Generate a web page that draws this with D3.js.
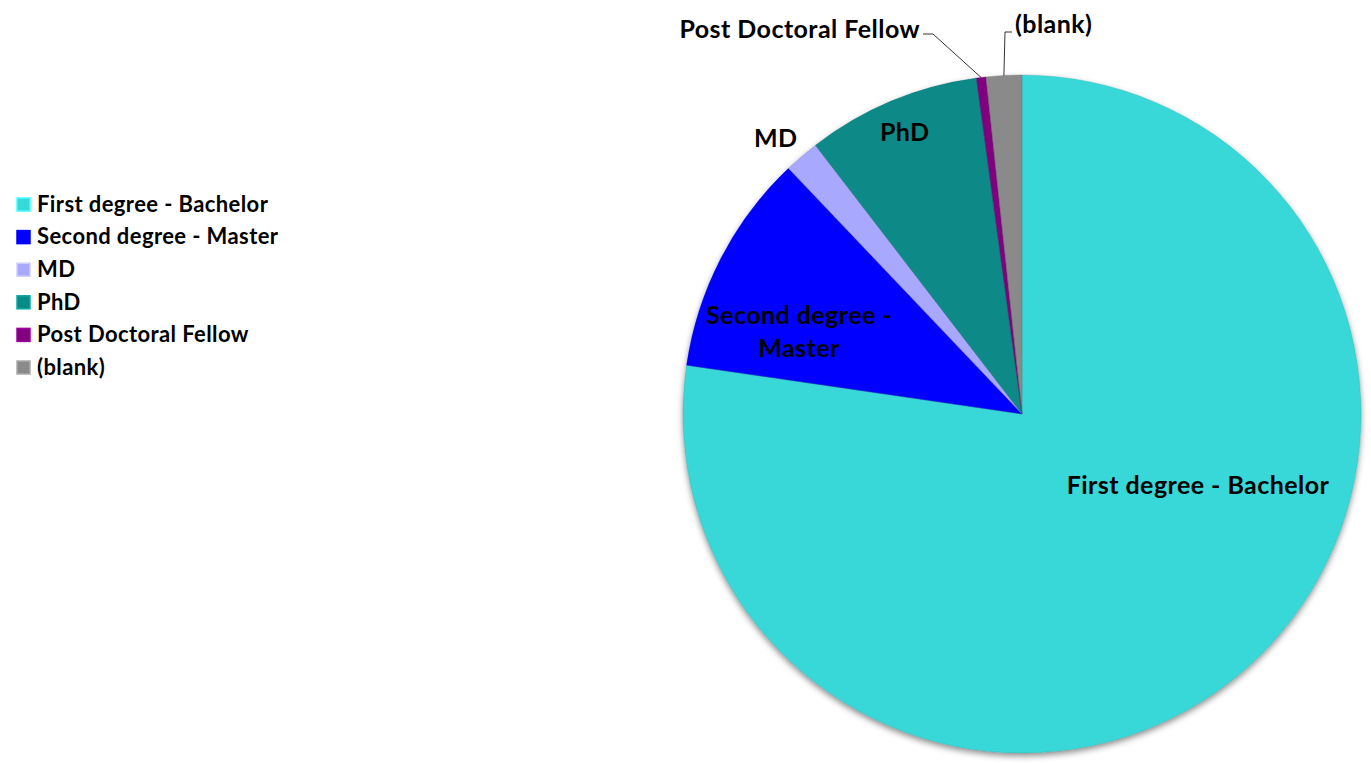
<!DOCTYPE html>
<html>
<head>
<meta charset="utf-8">
<script src="https://cdn.jsdelivr.net/npm/d3@7"></script>
<style>
  body { margin: 0; background: #fff; }
  text { font-family: Lato, "Open Sans", sans-serif; font-weight: 700; fill: #000; }
</style>
</head>
<body>
<div id="chart"></div>
<script>
// categories and share of each (percent)
const categories = ["First degree - Bachelor", "Second degree - Master", "MD", "PhD", "Post Doctoral Fellow", "(blank)"];
const values = [77.3, 10.6, 1.67, 8.28, 0.45, 1.7];
const colors = ["#38d8d8", "#0000ff", "#a8a8ff", "#088a87", "#800080", "#8a8a8a"];

const width = 1371, height = 763;
const cx = 1022, cy = 414, r = 339;

const svg = d3.select("#chart").append("svg")
  .attr("width", width)
  .attr("height", height);

const defs = svg.append("defs");
const shadow = defs.append("filter").attr("id", "shadow")
  .attr("x", "-10%").attr("y", "-10%").attr("width", "120%").attr("height", "120%");
shadow.append("feDropShadow")
  .attr("dx", 0).attr("dy", 3).attr("stdDeviation", 3)
  .attr("flood-color", "#000").attr("flood-opacity", 0.45);

const data = categories.map((c, i) => ({ name: c, value: values[i], color: colors[i] }));

const pie = d3.pie().sort(null).value(d => d.value);
const arcs = pie(data);
const arc = d3.arc().innerRadius(0).outerRadius(r);

const g = svg.append("g").attr("transform", `translate(${cx},${cy})`);

// slices with a soft shadow
const slices = g.append("g").attr("filter", "url(#shadow)");
slices.selectAll("path.slice")
  .data(arcs)
  .enter()
  .append("path")
  .attr("class", "slice")
  .attr("d", arc)
  .attr("fill", d => d.data.color);

// bevel: lighter inner rim clipped to each slice
arcs.forEach((d, i) => {
  defs.append("clipPath").attr("id", "clip" + i)
    .append("path").attr("d", arc(d)).attr("transform", `translate(${cx},${cy})`);
});
const bevel = svg.append("g");
bevel.selectAll("path")
  .data(arcs)
  .enter()
  .append("path")
  .attr("clip-path", (d, i) => `url(#clip${i})`)
  .attr("transform", `translate(${cx},${cy})`)
  .attr("d", arc)
  .attr("fill", "none")
  .attr("stroke", d => d3.color(d.data.color).brighter(0.5))
  .attr("stroke-opacity", 0.8)
  .attr("stroke-width", 5);
g.append("g").selectAll("path")
  .data(arcs)
  .enter()
  .append("path")
  .attr("d", arc)
  .attr("fill", "none")
  .attr("stroke", d => d3.color(d.data.color).darker(0.8))
  .attr("stroke-opacity", 0.5)
  .attr("stroke-width", 0.6);

// data labels: [angle in degrees from 12 o'clock, radius fraction]
const labelPlace = [[112, 0.56], [290, 0.7], [318.2, 1.09], [337.4, 0.9], null, null];
const polar = (deg, f) => {
  const a = deg * Math.PI / 180;
  return [Math.sin(a) * r * f, -Math.cos(a) * r * f];
};

const labels = g.append("g")
  .attr("font-size", 25)
  .attr("letter-spacing", 0.45);
arcs.forEach((d, i) => {
  const p = labelPlace[i];
  if (!p) return;
  const [x, y] = polar(p[0], p[1]);
  const t = labels.append("text")
    .attr("x", x).attr("y", y)
    .attr("text-anchor", "middle");
  if (d.data.name === "Second degree - Master") {
    t.append("tspan").attr("x", x).attr("dy", "-0.35em").text("Second degree -");
    t.append("tspan").attr("x", x).attr("dy", "1.3em").text("Master");
  } else {
    t.attr("dy", "0.35em").text(d.data.name);
  }
});

// outside labels with leader lines
function leader(d, textPos, anchor, elbow) {
  const a = (d.startAngle + d.endAngle) / 2;
  const edge = [Math.sin(a) * r, -Math.cos(a) * r];
  labels.append("path")
    .attr("d", d3.line()([edge, elbow, [textPos[0] + (anchor === "end" ? 3 : -3), elbow[1]]]))
    .attr("fill", "none")
    .attr("stroke", "#000")
    .attr("stroke-width", 0.8);
  labels.append("text")
    .attr("x", textPos[0]).attr("y", textPos[1])
    .attr("text-anchor", anchor)
    .attr("dy", "0.35em")
    .text(d.data.name);
}
leader(arcs[4], [-102, -385], "end", [-89, -380]);
leader(arcs[5], [-7, -390], "start", [-17, -382]);

// legend
const legend = svg.append("g").attr("transform", "translate(17,204)");
const rows = legend.selectAll("g")
  .data(data)
  .enter()
  .append("g")
  .attr("transform", (d, i) => `translate(0,${i * 32.6})`);
rows.append("rect")
  .attr("x", 0).attr("y", -6)
  .attr("width", 13).attr("height", 13)
  .attr("fill", d => d.color)
  .attr("stroke", d => d3.color(d.color).brighter(0.6))
  .attr("stroke-width", 1.5);
rows.append("text")
  .attr("x", 20)
  .attr("dy", "0.35em")
  .attr("font-size", 22)
  .attr("letter-spacing", 0.4)
  .text(d => d.name);
</script>
</body>
</html>
